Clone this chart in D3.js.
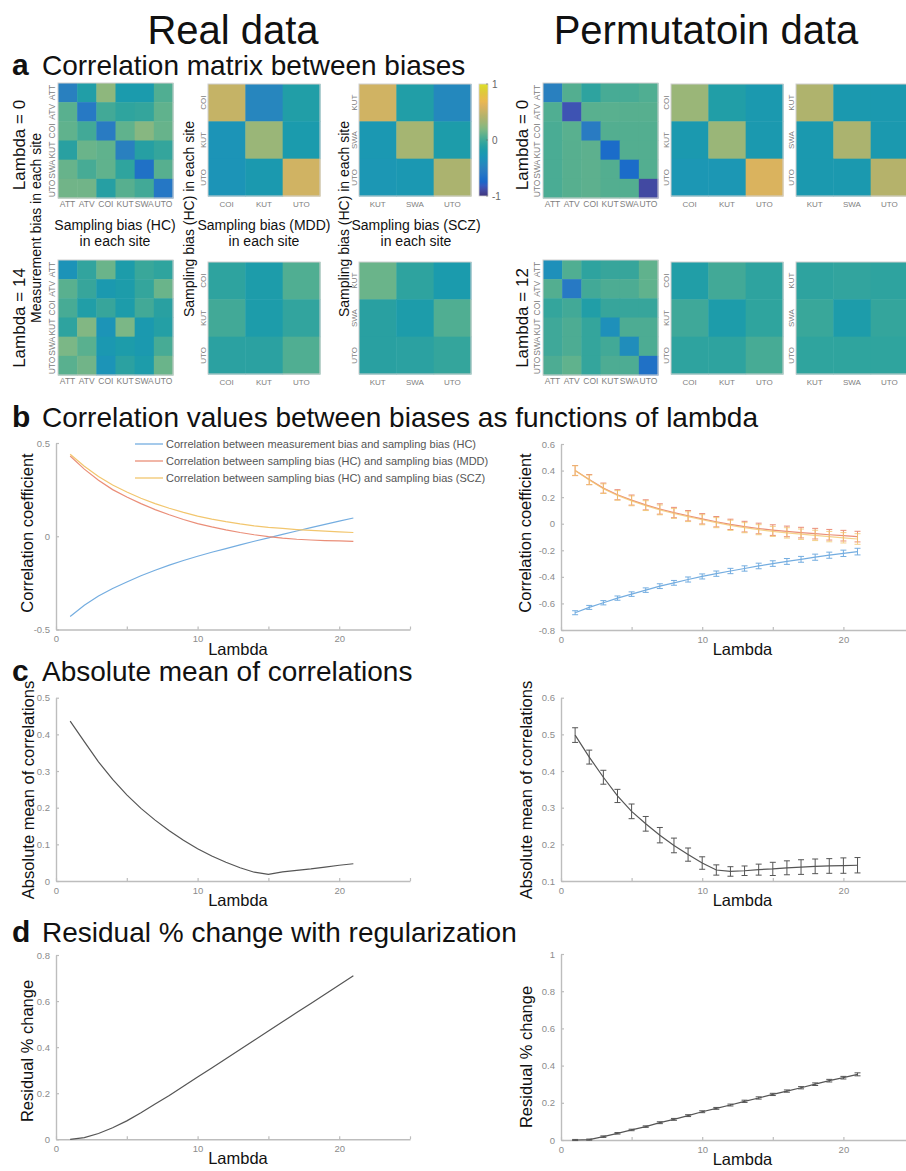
<!DOCTYPE html>
<html>
<head>
<meta charset="utf-8">
<script src="https://cdn.jsdelivr.net/npm/d3@7"></script>
<style>
  body { margin: 0; background: #fff; }
  svg { display: block; font-family: "Liberation Sans", Arial, Helvetica, sans-serif; }
</style>
</head>
<body>
<svg id="fig" width="906" height="1171"></svg>
<script>
// ---------------- data ----------------
const sitesAll = ["ATT", "ATV", "COI", "KUT", "SWA", "UTO"];
const sitesMDD = ["COI", "KUT", "UTO"];
const sitesSCZ = ["KUT", "SWA", "UTO"];
const lambdas = d3.range(1, 22);
const xTickValues = [0, 5, 10, 15, 20, 25];

// correlation matrices (rows = measurement / HC sampling bias, cols = other bias)
const realL0Meas = [
  [-0.5, -0.15, 0.25, -0.2, -0.2, 0.05],
  [0.08, -0.58, 0.0, -0.07, -0.05, 0.1],
  [0.1, 0.0, -0.55, 0.1, 0.22, 0.12],
  [-0.1, 0.13, 0.1, -0.5, -0.12, -0.05],
  [0.12, 0.02, 0.1, -0.07, -0.65, 0.07],
  [0.15, 0.15, -0.12, 0.07, 0.0, -0.6]
];
const realL0MDD = [
  [0.5, -0.45, -0.15],
  [-0.3, 0.3, -0.2],
  [-0.3, -0.22, 0.55]
];
const realL0SCZ = [
  [0.55, -0.15, -0.42],
  [-0.25, 0.35, -0.18],
  [-0.27, -0.25, 0.38]
];
const realL14Meas = [
  [-0.32, -0.06, 0.13, -0.18, -0.03, -0.07],
  [0.08, -0.04, -0.22, -0.18, -0.05, 0.13],
  [0.02, -0.15, -0.04, -0.18, 0.0, -0.1],
  [-0.08, 0.2, -0.3, 0.18, -0.22, -0.13],
  [0.18, 0.08, -0.24, -0.18, -0.22, 0.02],
  [0.08, 0.15, -0.3, -0.09, -0.18, 0.13]
];
const realL14MDD = [
  [-0.08, -0.18, 0.05],
  [0.0, -0.18, -0.06],
  [-0.09, -0.09, 0.05]
];
const realL14SCZ = [
  [0.13, -0.08, -0.2],
  [-0.1, -0.18, 0.05],
  [-0.1, -0.09, -0.05]
];
const permL0Meas = [
  [-0.5, 0.06, -0.08, 0.02, 0.02, 0.05],
  [0.05, -0.85, 0.08, 0.08, 0.07, 0.07],
  [0.03, 0.08, -0.55, 0.06, 0.06, 0.06],
  [0.03, 0.07, 0.09, -0.7, 0.06, 0.06],
  [0.03, 0.07, 0.09, 0.06, -0.7, 0.06],
  [0.03, 0.07, 0.09, 0.06, 0.06, -0.9]
];
const permL0MDD = [
  [0.3, -0.15, -0.22],
  [-0.22, 0.3, -0.22],
  [-0.27, -0.27, 0.6]
];
const permL0SCZ = [
  [0.4, -0.22, -0.22],
  [-0.22, 0.38, -0.22],
  [-0.22, -0.22, 0.43]
];
const permL12Meas = [
  [-0.35, 0.05, -0.08, -0.04, -0.04, 0.1],
  [0.06, -0.58, 0.0, 0.04, 0.04, 0.1],
  [-0.05, 0.0, -0.15, -0.04, -0.04, -0.04],
  [-0.01, 0.04, -0.05, -0.35, 0.04, 0.04],
  [-0.01, 0.04, -0.05, 0.0, -0.38, 0.04],
  [0.04, 0.1, -0.05, 0.04, 0.04, -0.65]
];
const permL12MDD = [
  [-0.15, 0.0, -0.08],
  [-0.01, -0.18, -0.07],
  [-0.08, -0.08, 0.02]
];
const permL12SCZ = [
  [-0.08, -0.06, -0.08],
  [-0.03, -0.18, -0.05],
  [-0.07, -0.07, -0.07]
];

// correlation vs lambda, real data
const realMeasHC = [-0.43, -0.37, -0.32, -0.28, -0.245, -0.212, -0.182, -0.155, -0.13, -0.107, -0.086, -0.066, -0.046, -0.027, -0.009, 0.01, 0.028, 0.046, 0.064, 0.081, 0.098];
const realHCMDD = [0.43, 0.36, 0.30, 0.25, 0.21, 0.175, 0.143, 0.115, 0.09, 0.068, 0.05, 0.034, 0.02, 0.008, -0.002, -0.01, -0.016, -0.02, -0.023, -0.025, -0.027];
const realHCSCZ = [0.44, 0.375, 0.32, 0.275, 0.237, 0.204, 0.175, 0.15, 0.128, 0.108, 0.092, 0.078, 0.066, 0.056, 0.048, 0.042, 0.036, 0.031, 0.027, 0.023, 0.02];

// correlation vs lambda, permutation data (mean and error)
const permMeasHC = [-0.67, -0.63, -0.595, -0.56, -0.53, -0.5, -0.47, -0.445, -0.42, -0.397, -0.376, -0.356, -0.337, -0.318, -0.3, -0.284, -0.268, -0.252, -0.237, -0.223, -0.21];
const permMeasHCErr = [0.015, 0.015, 0.016, 0.016, 0.017, 0.017, 0.018, 0.018, 0.019, 0.019, 0.02, 0.02, 0.02, 0.021, 0.021, 0.022, 0.022, 0.023, 0.023, 0.024, 0.025];
const permHCMDD = [0.40, 0.332, 0.268, 0.218, 0.178, 0.142, 0.111, 0.084, 0.06, 0.037, 0.015, -0.005, -0.022, -0.036, -0.048, -0.058, -0.067, -0.075, -0.083, -0.09, -0.097];
const permHCMDDErr = [0.038, 0.038, 0.038, 0.038, 0.038, 0.038, 0.039, 0.039, 0.039, 0.039, 0.039, 0.039, 0.04, 0.04, 0.04, 0.04, 0.04, 0.04, 0.04, 0.04, 0.04];
const permHCSCZ = [0.40, 0.33, 0.264, 0.213, 0.172, 0.136, 0.104, 0.077, 0.053, 0.03, 0.008, -0.012, -0.03, -0.045, -0.058, -0.069, -0.079, -0.088, -0.097, -0.106, -0.115];
const permHCSCZErr = [0.036, 0.036, 0.036, 0.036, 0.037, 0.037, 0.037, 0.037, 0.037, 0.038, 0.038, 0.038, 0.038, 0.038, 0.038, 0.039, 0.039, 0.039, 0.039, 0.039, 0.04];

// absolute mean of correlations
const realAbsMean = [0.436, 0.38, 0.325, 0.277, 0.235, 0.198, 0.166, 0.137, 0.111, 0.088, 0.068, 0.051, 0.036, 0.024, 0.018, 0.025, 0.029, 0.033, 0.038, 0.043, 0.047];
const permAbsMean = [0.498, 0.438, 0.383, 0.332, 0.29, 0.256, 0.225, 0.197, 0.172, 0.149, 0.13, 0.126, 0.128, 0.131, 0.133, 0.136, 0.138, 0.14, 0.141, 0.142, 0.143];
const permAbsMeanErr = [0.02, 0.019, 0.019, 0.018, 0.02, 0.02, 0.021, 0.02, 0.018, 0.017, 0.014, 0.013, 0.013, 0.015, 0.018, 0.019, 0.02, 0.02, 0.02, 0.021, 0.021];

// residual % change
const realResidual = [0, 0.007, 0.025, 0.05, 0.08, 0.115, 0.153, 0.19, 0.23, 0.27, 0.31, 0.35, 0.39, 0.43, 0.47, 0.51, 0.55, 0.59, 0.63, 0.67, 0.71];
const permResidual = [0, 0.002, 0.018, 0.036, 0.054, 0.072, 0.093, 0.111, 0.131, 0.152, 0.17, 0.188, 0.208, 0.226, 0.245, 0.263, 0.281, 0.3, 0.319, 0.335, 0.353];
const permResidualErr = [0.003, 0.003, 0.004, 0.004, 0.004, 0.004, 0.005, 0.005, 0.005, 0.005, 0.005, 0.005, 0.006, 0.006, 0.006, 0.006, 0.006, 0.007, 0.007, 0.007, 0.008];

const legendLabels = [
  "Correlation between measurement bias and sampling bias (HC)",
  "Correlation between sampling bias (HC) and sampling bias (MDD)",
  "Correlation between sampling bias (HC) and sampling bias (SCZ)"
];

// parula colormap stops
const parulaStops = [
  [0.2081,0.1663,0.5292],[0.2116,0.1898,0.5777],[0.2123,0.2138,0.6270],[0.2081,0.2386,0.6771],
  [0.1959,0.2645,0.7279],[0.1707,0.2919,0.7792],[0.1253,0.3242,0.8303],[0.0591,0.3598,0.8683],
  [0.0117,0.3875,0.8820],[0.0060,0.4086,0.8828],[0.0165,0.4266,0.8786],[0.0329,0.4430,0.8720],
  [0.0498,0.4586,0.8641],[0.0629,0.4737,0.8554],[0.0723,0.4887,0.8467],[0.0779,0.5040,0.8384],
  [0.0793,0.5200,0.8312],[0.0749,0.5375,0.8263],[0.0641,0.5570,0.8240],[0.0488,0.5772,0.8228],
  [0.0343,0.5966,0.8199],[0.0265,0.6137,0.8135],[0.0239,0.6287,0.8038],[0.0231,0.6418,0.7913],
  [0.0228,0.6535,0.7768],[0.0267,0.6642,0.7607],[0.0384,0.6743,0.7436],[0.0590,0.6838,0.7254],
  [0.0843,0.6928,0.7062],[0.1133,0.7015,0.6859],[0.1453,0.7098,0.6646],[0.1801,0.7177,0.6424],
  [0.2178,0.7250,0.6193],[0.2586,0.7317,0.5954],[0.3022,0.7376,0.5712],[0.3482,0.7424,0.5473],
  [0.3953,0.7459,0.5244],[0.4420,0.7481,0.5033],[0.4871,0.7491,0.4840],[0.5300,0.7491,0.4661],
  [0.5709,0.7485,0.4494],[0.6099,0.7473,0.4337],[0.6473,0.7456,0.4188],[0.6834,0.7435,0.4044],
  [0.7184,0.7411,0.3905],[0.7525,0.7384,0.3768],[0.7858,0.7356,0.3633],[0.8185,0.7327,0.3498],
  [0.8507,0.7299,0.3360],[0.8824,0.7274,0.3217],[0.9139,0.7258,0.3063],[0.9450,0.7261,0.2886],
  [0.9739,0.7314,0.2666],[0.9938,0.7455,0.2403],[0.9990,0.7653,0.2164],[0.9955,0.7861,0.1967],
  [0.9880,0.8066,0.1794],[0.9789,0.8271,0.1633],[0.9697,0.8481,0.1475],[0.9626,0.8705,0.1309],
  [0.9589,0.8949,0.1132],[0.9598,0.9218,0.0948],[0.9661,0.9514,0.0755],[0.9763,0.9831,0.0538]
];

// ---------------- drawing ----------------
const svg = d3.select("#fig");
const parulaRaw = d3.piecewise(d3.interpolateRgb,
  parulaStops.map(c => d3.rgb(c[0] * 255, c[1] * 255, c[2] * 255)));
// printed colormap is slightly muted
const parula = t => {
  const c = d3.hsl(parulaRaw(t));
  c.s *= 0.78;
  return c.formatHex();
};
const colorScale = d3.scaleSequential(parula).domain([-1, 1]);

const AXIS_GRAY = "#bdbdbd";
const TICK_TEXT = "#8c8c8c";

// column headers
svg.append("text").attr("x", 233).attr("y", 44).attr("text-anchor", "middle")
  .attr("font-size", 40).attr("fill", "#111").text("Real data");
svg.append("text").attr("x", 706).attr("y", 44).attr("text-anchor", "middle")
  .attr("font-size", 40).attr("fill", "#111").text("Permutatoin data");

// panel titles
function panelTitle(letter, text, yBase) {
  svg.append("text").attr("x", 12).attr("y", yBase).attr("font-size", 30)
    .attr("font-weight", "bold").attr("fill", "#111").text(letter);
  svg.append("text").attr("x", 42).attr("y", yBase).attr("font-size", 28)
    .attr("fill", "#111").text(text);
}
panelTitle("a", "Correlation matrix between biases", 75);
panelTitle("b", "Correlation values between biases as functions of lambda", 427);
panelTitle("c", "Absolute mean of correlations", 681);
panelTitle("d", "Residual % change with regularization", 942);

function vText(x, y, text, size, fill) {
  svg.append("text")
    .attr("transform", `translate(${x},${y}) rotate(-90)`)
    .attr("text-anchor", "middle").attr("dy", "0.35em")
    .attr("font-size", size).attr("fill", fill || "#111").text(text);
}

// correlation heatmap
function heatmap(mat, rows, cols, x0, y0, size, big) {
  const g = svg.append("g");
  const xs = d3.scaleBand().domain(cols).range([x0, x0 + size]);
  const ys = d3.scaleBand().domain(rows).range([y0, y0 + size]);
  rows.forEach((r, i) => {
    cols.forEach((c, j) => {
      g.append("rect")
        .attr("x", xs(c)).attr("y", ys(r))
        .attr("width", xs.bandwidth() + 0.5).attr("height", ys.bandwidth() + 0.5)
        .attr("fill", colorScale(mat[i][j]));
    });
  });
  g.append("rect").attr("x", x0).attr("y", y0).attr("width", size).attr("height", size)
    .attr("fill", "none").attr("stroke", "#d0d0d0").attr("stroke-width", 1);
  const fs = big ? 8.5 : 8;
  cols.forEach(c => {
    g.append("text").attr("x", xs(c) + xs.bandwidth() / 2).attr("y", y0 + size + (big ? 9 : 11))
      .attr("text-anchor", "middle").attr("font-size", fs).attr("fill", "#808080").text(c);
  });
  rows.forEach(r => {
    g.append("text")
      .attr("transform", `translate(${x0 - (big ? 6 : 5)},${ys(r) + ys.bandwidth() / 2}) rotate(-90)`)
      .attr("text-anchor", "middle").attr("dy", "0.35em")
      .attr("font-size", fs).attr("fill", "#808080").text(r);
  });
}

// real data heatmaps
heatmap(realL0Meas, sitesAll, sitesAll, 58, 83, 115, true);
heatmap(realL0MDD, sitesMDD, sitesMDD, 208, 84, 112, false);
heatmap(realL0SCZ, sitesSCZ, sitesSCZ, 359, 84, 112, false);
heatmap(realL14Meas, sitesAll, sitesAll, 58, 260, 115, true);
heatmap(realL14MDD, sitesMDD, sitesMDD, 208, 262, 112, false);
heatmap(realL14SCZ, sitesSCZ, sitesSCZ, 359, 262, 112, false);
// permutation heatmaps
heatmap(permL0Meas, sitesAll, sitesAll, 543, 83, 115, true);
heatmap(permL0MDD, sitesMDD, sitesMDD, 671, 84, 112, false);
heatmap(permL0SCZ, sitesSCZ, sitesSCZ, 796, 84, 112, false);
heatmap(permL12Meas, sitesAll, sitesAll, 543, 260, 115, true);
heatmap(permL12MDD, sitesMDD, sitesMDD, 671, 262, 112, false);
heatmap(permL12SCZ, sitesSCZ, sitesSCZ, 796, 262, 112, false);

// colorbar
(function colorbar() {
  const x0 = 479, w = 9, top = 84, bottom = 196;
  const cy = d3.scaleLinear().domain([-1, 1]).range([bottom, top]);
  const defs = svg.append("defs");
  const grad = defs.append("linearGradient").attr("id", "cbar")
    .attr("x1", 0).attr("y1", 1).attr("x2", 0).attr("y2", 0);
  d3.range(0, 1.0001, 1 / 32).forEach(t => {
    grad.append("stop").attr("offset", t).attr("stop-color", parula(t));
  });
  svg.append("rect").attr("x", x0).attr("y", top).attr("width", w).attr("height", bottom - top)
    .attr("fill", "url(#cbar)").attr("stroke", "#d0d0d0").attr("stroke-width", 0.8);
  [-1, 0, 1].forEach(v => {
    svg.append("line").attr("x1", x0 + w - 2).attr("x2", x0 + w).attr("y1", cy(v)).attr("y2", cy(v))
      .attr("stroke", "#666").attr("stroke-width", 0.6);
    svg.append("text").attr("x", x0 + w + 4).attr("y", cy(v)).attr("dy", "0.35em")
      .attr("font-size", 10).attr("fill", "#666").text(String(v));
  });
})();

// heatmap row / column annotations
vText(19, 145, "Lambda = 0", 17);
vText(19, 318, "Lambda = 14", 17);
vText(522, 145, "Lambda = 0", 17);
vText(522, 318, "Lambda = 12", 17);
vText(36, 228, "Measurement bias in each site", 14);
vText(189, 219, "Sampling bias (HC) in each site", 14);
vText(344, 219, "Sampling bias (HC) in each site", 14);
[[115, "Sampling bias (HC)"], [264, "Sampling bias (MDD)"], [416, "Sampling bias (SCZ)"]]
  .forEach(([cx, t]) => {
    svg.append("text").attr("x", cx).attr("y", 230).attr("text-anchor", "middle")
      .attr("font-size", 14).attr("fill", "#111").text(t);
    svg.append("text").attr("x", cx).attr("y", 246).attr("text-anchor", "middle")
      .attr("font-size", 14).attr("fill", "#111").text("in each site");
  });

// line plot with optional error bars
function linePlot(cfg) {
  const x = d3.scaleLinear().domain([0, 25]).range([cfg.left, cfg.right]);
  const y = d3.scaleLinear().domain(cfg.yDomain).range([cfg.bottom, cfg.top]);
  const g = svg.append("g");
  const fmt = d => String(Math.round(d * 10) / 10);

  const xa = d3.axisBottom(x).tickValues(xTickValues)
    .tickFormat(d => (d % 10 === 0 ? String(d) : ""))
    .tickSizeInner(-3).tickSizeOuter(0).tickPadding(6);
  const ya = d3.axisLeft(y).tickValues(cfg.yTicks).tickFormat(fmt)
    .tickSizeInner(-3).tickSizeOuter(0).tickPadding(6);
  const gx = g.append("g").attr("transform", `translate(0,${cfg.bottom})`).call(xa);
  const gy = g.append("g").attr("transform", `translate(${cfg.left},0)`).call(ya);
  [gx, gy].forEach(a => {
    a.select(".domain").attr("stroke", AXIS_GRAY).attr("stroke-width", 1.4);
    a.selectAll(".tick line").attr("stroke", AXIS_GRAY).attr("stroke-width", 1.2);
    a.selectAll(".tick text").attr("fill", TICK_TEXT).attr("font-size", 9.5)
      .attr("font-family", "'Liberation Sans', Arial, sans-serif");
  });

  const line = d3.line().x((d, i) => x(lambdas[i])).y(d => y(d));
  cfg.series.forEach(s => {
    g.append("path").datum(s.values).attr("d", line)
      .attr("fill", "none").attr("stroke", s.color).attr("stroke-width", s.width || 1.2)
      .attr("opacity", s.opacity || 1);
    if (s.err) {
      s.values.forEach((v, i) => {
        const px = x(lambdas[i]);
        const y1 = y(v - s.err[i]), y2 = y(v + s.err[i]);
        const eb = g.append("g").attr("stroke", s.color).attr("stroke-width", 1)
          .attr("opacity", s.opacity || 1);
        eb.append("line").attr("x1", px).attr("x2", px).attr("y1", y1).attr("y2", y2);
        eb.append("line").attr("x1", px - 3).attr("x2", px + 3).attr("y1", y1).attr("y2", y1);
        eb.append("line").attr("x1", px - 3).attr("x2", px + 3).attr("y1", y2).attr("y2", y2);
      });
    }
  });

  svg.append("text").attr("x", (cfg.left + cfg.right) / 2 + 5).attr("y", cfg.bottom + 25)
    .attr("text-anchor", "middle").attr("font-size", 16.5).attr("fill", "#111").text("Lambda");
  vText(cfg.ylabelX, cfg.ylabelY, cfg.ylabel, 16.5);
  return { x, y };
}

const C_BLUE = "#74ade0", C_RED = "#ea8e78", C_YEL = "#f2c66e";

// b: real
linePlot({
  left: 56, right: 410, top: 443, bottom: 629.5, yDomain: [-0.5, 0.5], yTicks: [-0.5, 0, 0.5],
  ylabel: "Correlation coefficient", ylabelX: 27, ylabelY: 533,
  series: [
    { values: realMeasHC, color: C_BLUE },
    { values: realHCMDD, color: C_RED },
    { values: realHCSCZ, color: C_YEL }
  ]
});
// legend
legendLabels.forEach((t, i) => {
  const ly = 444 + i * 17;
  svg.append("line").attr("x1", 135).attr("x2", 163).attr("y1", ly).attr("y2", ly)
    .attr("stroke", [C_BLUE, C_RED, C_YEL][i]).attr("stroke-width", 1.3);
  svg.append("text").attr("x", 166).attr("y", ly).attr("dy", "0.35em")
    .attr("font-size", 11).attr("fill", "#555").text(t);
});

// b: permutation
linePlot({
  left: 561, right: 914, top: 444, bottom: 630, yDomain: [-0.8, 0.6],
  yTicks: [-0.8, -0.6, -0.4, -0.2, 0, 0.2, 0.4, 0.6],
  ylabel: "Correlation coefficient", ylabelX: 525, ylabelY: 533,
  series: [
    { values: permMeasHC, err: permMeasHCErr, color: C_BLUE },
    { values: permHCMDD, err: permHCMDDErr, color: C_RED },
    { values: permHCSCZ, err: permHCSCZErr, color: C_YEL, opacity: 0.8 }
  ]
});

// c
linePlot({
  left: 56, right: 410, top: 697.7, bottom: 881, yDomain: [0, 0.5],
  yTicks: [0, 0.1, 0.2, 0.3, 0.4, 0.5],
  ylabel: "Absolute mean of correlations", ylabelX: 28, ylabelY: 790,
  series: [{ values: realAbsMean, color: "#555" }]
});
linePlot({
  left: 561, right: 914, top: 697.7, bottom: 881, yDomain: [0.1, 0.6],
  yTicks: [0.1, 0.2, 0.3, 0.4, 0.5, 0.6],
  ylabel: "Absolute mean of correlations", ylabelX: 526, ylabelY: 790,
  series: [{ values: permAbsMean, err: permAbsMeanErr, color: "#555" }]
});

// d
linePlot({
  left: 56, right: 410, top: 955, bottom: 1139.3, yDomain: [0, 0.8],
  yTicks: [0, 0.2, 0.4, 0.6, 0.8],
  ylabel: "Residual % change", ylabelX: 27, ylabelY: 1051,
  series: [{ values: realResidual, color: "#555" }]
});
linePlot({
  left: 561, right: 914, top: 954, bottom: 1140, yDomain: [0, 1],
  yTicks: [0, 0.2, 0.4, 0.6, 0.8, 1],
  ylabel: "Residual % change", ylabelX: 526, ylabelY: 1057,
  series: [{ values: permResidual, err: permResidualErr, color: "#555" }]
});
</script>
</body>
</html>
